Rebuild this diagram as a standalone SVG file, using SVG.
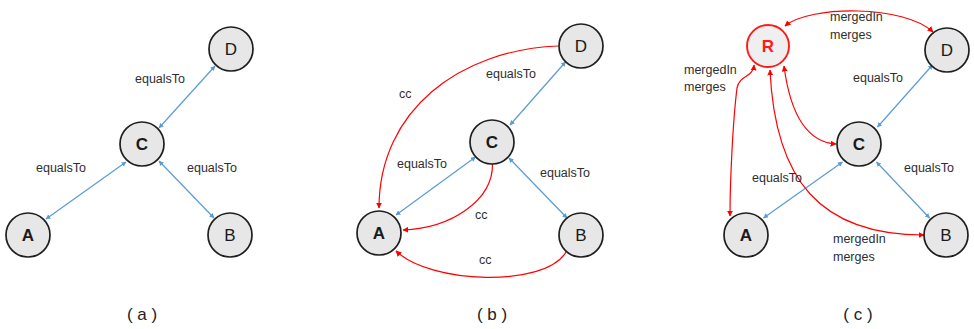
<svg xmlns="http://www.w3.org/2000/svg" width="974" height="329" viewBox="0 0 974 329">
<defs>
<marker id="ab" viewBox="0 0 10 10" refX="9" refY="5" markerWidth="5" markerHeight="5" orient="auto-start-reverse" markerUnits="userSpaceOnUse"><path d="M0,0 L10,5 L0,10 z" fill="#5B9BD5"/></marker>
<marker id="ar" viewBox="0 0 10 10" refX="9" refY="5" markerWidth="6" markerHeight="6" orient="auto-start-reverse" markerUnits="userSpaceOnUse"><path d="M0,0 L10,5 L0,10 z" fill="#FF0000"/></marker>
<style>
.n{fill:#E7E7E7;stroke:#1F1F1F;stroke-width:1.7}
.nr{fill:#EFEFEF;stroke:#FF1A1A;stroke-width:1.9}
.nt{font-family:"Liberation Sans",Arial,sans-serif;font-size:17px;fill:#1a1a1a;text-anchor:middle}
.b{font-weight:bold}
.lb{font-family:"Liberation Sans",Arial,sans-serif;font-size:12.5px;fill:#2e2e2e}
.cap{font-family:"Liberation Sans",Arial,sans-serif;font-size:17px;fill:#222;text-anchor:middle}
.bl{fill:none;stroke:#5B9BD5;stroke-width:1.2;marker-start:url(#ab);marker-end:url(#ab)}
.rd{fill:none;stroke:#FF0000;stroke-width:1.2}
.r1{marker-end:url(#ar)}
.r2{marker-start:url(#ar);marker-end:url(#ar)}
</style>
</defs>
<g id="connectors">
<line class="bl" x1="159" y1="128" x2="215" y2="66"/>
<line class="bl" x1="126" y1="162" x2="46" y2="219"/>
<line class="bl" x1="159" y1="161" x2="214" y2="218"/>
<line class="bl" x1="510" y1="125" x2="565.5" y2="62"/>
<line class="bl" x1="475.5" y1="157" x2="396" y2="215"/>
<line class="bl" x1="509" y1="158" x2="567" y2="218"/>
<path class="rd r1" d="M558,46 C460,50 379,110 379,208"/>
<path class="rd r1" d="M492.5,164 C493,200 452,228 403,230"/>
<path class="rd r1" d="M566,252 C545,288 430,284 396,251"/>
<line class="bl" x1="877.5" y1="127" x2="932.5" y2="65"/>
<line class="bl" x1="842.5" y1="162" x2="763.5" y2="218"/>
<line class="bl" x1="876.5" y1="162" x2="929.5" y2="218"/>
<path class="rd r2" d="M785,26 C810,5 905,5 933,32"/>
<path class="rd r2" d="M754,65 C753,78 740,74 737,88 C733,120 730,180 730,216"/>
<path class="rd r2" d="M784,66 C790,112 806,142 836,144"/>
<path class="rd r2" d="M770,70 C775,180 820,235 924,235"/>
</g>
<g id="a-D"><circle class="n" cx="231" cy="49" r="22"/><text class="nt" x="231" y="55">D</text></g>
<g id="a-C"><circle class="n" cx="142" cy="144" r="22"/><text class="nt b" x="142" y="150">C</text></g>
<g id="a-A"><circle class="n" cx="28" cy="235" r="22"/><text class="nt b" x="28" y="241">A</text></g>
<g id="a-B"><circle class="n" cx="230" cy="235" r="22"/><text class="nt" x="230" y="241">B</text></g>
<g id="b-D"><circle class="n" cx="581" cy="46" r="22"/><text class="nt" x="581" y="52">D</text></g>
<g id="b-C"><circle class="n" cx="492" cy="142" r="22"/><text class="nt b" x="492" y="148">C</text></g>
<g id="b-A"><circle class="n" cx="379" cy="233" r="22"/><text class="nt b" x="379" y="239">A</text></g>
<g id="b-B"><circle class="n" cx="581" cy="235" r="22"/><text class="nt" x="581" y="241">B</text></g>
<g id="c-R"><circle class="nr" cx="768" cy="46" r="21"/><text class="nt b" x="768" y="52" style="fill:#FF1A1A">R</text></g>
<g id="c-D"><circle class="n" cx="947" cy="50" r="22"/><text class="nt" x="947" y="56">D</text></g>
<g id="c-C"><circle class="n" cx="859" cy="144" r="22"/><text class="nt b" x="859" y="150">C</text></g>
<g id="c-A"><circle class="n" cx="746" cy="235" r="22"/><text class="nt b" x="746" y="241">A</text></g>
<g id="c-B"><circle class="n" cx="946" cy="235" r="22"/><text class="nt" x="946" y="241">B</text></g>
<g id="labels">
<text class="lb" x="135" y="83">equalsTo</text>
<text class="lb" x="36" y="172">equalsTo</text>
<text class="lb" x="187" y="172">equalsTo</text>
<text class="cap" x="142" y="320">( a )</text>
<text class="lb" x="486" y="78">equalsTo</text>
<text class="lb" x="399" y="98">cc</text>
<text class="lb" x="397" y="168">equalsTo</text>
<text class="lb" x="540" y="177">equalsTo</text>
<text class="lb" x="475" y="219">cc</text>
<text class="lb" x="479" y="264">cc</text>
<text class="cap" x="492" y="320">( b )</text>
<text class="lb" x="830" y="21">mergedIn</text>
<text class="lb" x="830" y="39">merges</text>
<text class="lb" x="684" y="74">mergedIn</text>
<text class="lb" x="684" y="91">merges</text>
<text class="lb" x="833" y="243">mergedIn</text>
<text class="lb" x="833" y="261">merges</text>
<text class="lb" x="853" y="82">equalsTo</text>
<text class="lb" x="752" y="182">equalsTo</text>
<text class="lb" x="904" y="172">equalsTo</text>
<text class="cap" x="858" y="320">( c )</text>
</g>
</svg>
